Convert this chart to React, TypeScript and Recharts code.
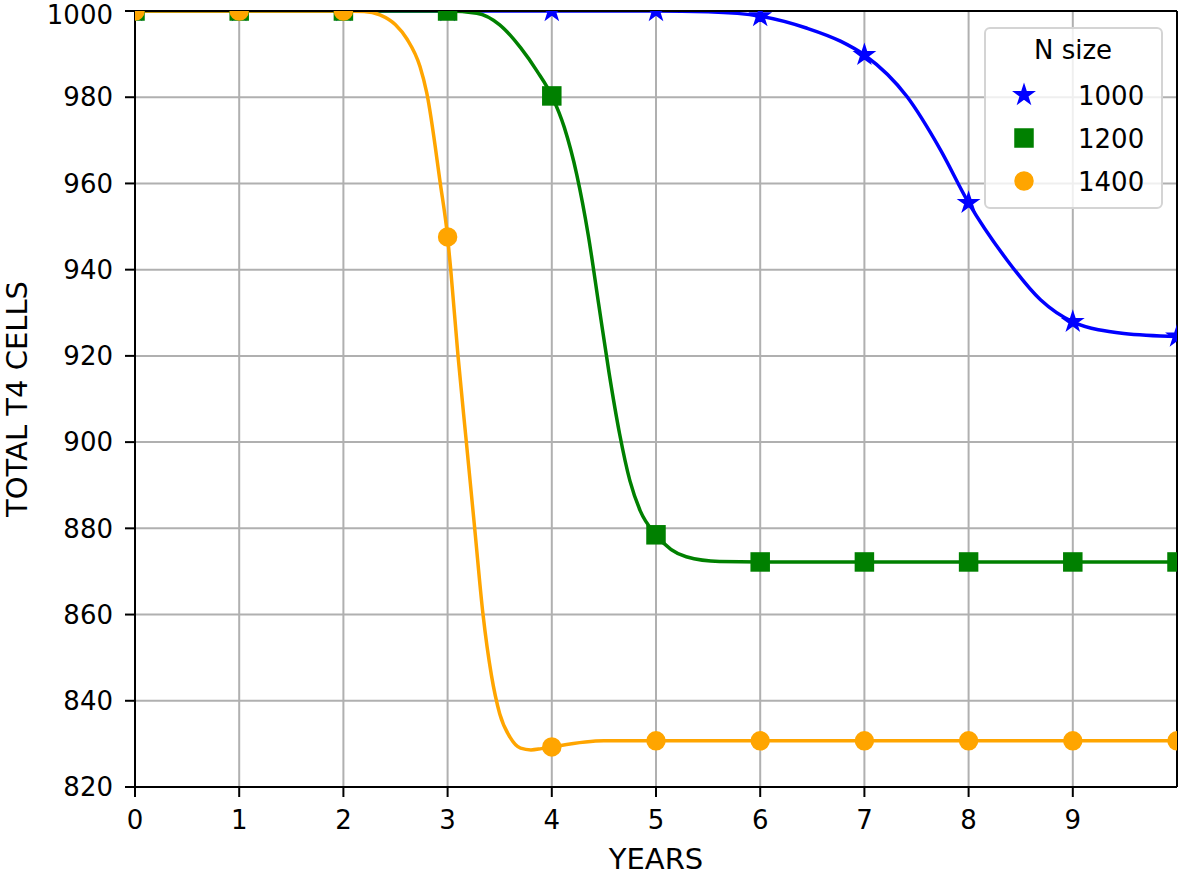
import { LineChart, Line, XAxis, YAxis, CartesianGrid, ReferenceLine } from 'recharts';

// integer years where the markers sit
const years = [0, 1, 2, 3, 4, 5, 6, 7, 8, 9, 10];
const xTicks = [0, 1, 2, 3, 4, 5, 6, 7, 8, 9];
const yTicks = [820, 840, 860, 880, 900, 920, 940, 960, 980, 1000];

// marker values (read at each year)
const n1000Marks = [1000, 1000, 1000, 1000, 1000, 1000, 998.8, 989.8, 955.5, 927.9, 924.5];
const n1200Marks = [1000, 1000, 1000, 1000, 980.3, 878.5, 872.2, 872.2, 872.2, 872.2, 872.2];
const n1400Marks = [1000, 1000, 1000, 947.6, 829.3, 830.7, 830.7, 830.7, 830.7, 830.7, 830.7];

// smooth curves at uneven x positions
const n1000CurveX = [0, 1, 2, 3, 4, 5, 5.5, 6, 6.45, 6.77, 7, 7.41, 7.73, 8, 8.37, 8.69, 9, 9.49, 10];
const n1000CurveY = [1000, 1000, 1000, 1000, 1000, 1000, 999.8, 998.8, 996, 993, 989.8, 980.1, 967.8, 955.5, 942.2, 933, 927.9, 925.2, 924.5];

const n1200CurveX = [0, 1, 2, 3, 3.28, 3.5, 3.7, 3.86, 4, 4.12, 4.24, 4.35, 4.45, 4.55, 4.65, 4.75, 4.85, 5, 5.29, 5.61, 6, 7, 8, 9, 10];
const n1200CurveY = [1000, 1000, 1000, 1000, 999.5, 996.8, 991.5, 986, 980.3, 973, 962, 948, 932, 916, 902, 891, 884, 878.5, 873.4, 872.3, 872.2, 872.2, 872.2, 872.2, 872.2];

const n1400CurveX = [0, 1, 2, 2.2, 2.35, 2.5, 2.61, 2.735, 2.8, 2.93, 3, 3.03, 3.1, 3.18, 3.26, 3.34, 3.42, 3.5, 3.6, 3.7, 3.8, 3.9, 4, 4.5, 5, 6, 7, 8, 9, 10];
const n1400CurveY = [1000, 1000, 1000, 999.9, 999.1, 996.8, 993.5, 987.1, 981, 960, 947.6, 940, 920, 900, 880, 860, 846, 837, 831.5, 829, 828.6, 828.9, 829.3, 830.7, 830.7, 830.7, 830.7, 830.7, 830.7, 830.7];

const seriesNames = ['1000', '1200', '1400'];
const BLUE = '#0000ff';
const GREEN = '#008000';
const ORANGE = '#ffa500';
const FONT = 'DejaVu Sans, sans-serif';
const MS = 17;

const zip = (xs: number[], ys: number[]) => xs.map((x, i) => ({ x, y: ys[i] }));

function starPoints(cx: number, cy: number, r: number) {
  const inner = r * 0.381966;
  const pts: string[] = [];
  for (let i = 0; i < 10; i++) {
    const rad = i % 2 === 0 ? r : inner;
    const a = -Math.PI / 2 + (i * Math.PI) / 5;
    pts.push(`${cx + rad * Math.cos(a)},${cy + rad * Math.sin(a)}`);
  }
  return pts.join(' ');
}

function Marker({ kind, cx, cy, color }: { kind: string; cx: number; cy: number; color: string }) {
  if (kind === 'star') {
    return <polygon points={starPoints(cx, cy, MS / 2)} fill={color} stroke={color} strokeWidth={2.5} strokeLinejoin="miter" />;
  }
  if (kind === 'square') {
    return <rect x={cx - MS / 2} y={cy - MS / 2} width={MS} height={MS} fill={color} stroke={color} strokeWidth={2.5} />;
  }
  return <circle cx={cx} cy={cy} r={MS / 2} fill={color} stroke={color} strokeWidth={2.5} />;
}

const dotRenderer = (kind: string, color: string) => (p: any) => (
  <Marker key={`${kind}-${p.index}`} kind={kind} cx={p.cx} cy={p.cy} color={color} />
);

function LegendBox() {
  const rows = [
    { kind: 'star', color: BLUE, cy: 68 },
    { kind: 'square', color: GREEN, cy: 111 },
    { kind: 'circle', color: ORANGE, cy: 154 },
  ];
  return (
    <svg width={179} height={182} style={{ position: 'absolute', left: 984, top: 27 }}>
      <rect x={1} y={1} width={177} height={180} rx={5} fill="#ffffff" fillOpacity={0.8} stroke="#d4d4d4" strokeWidth={2} />
      <text x={89} y={32} textAnchor="middle" fontFamily={FONT} fontSize={26} fill="#000">N size</text>
      {rows.map((r, i) => (
        <g key={i}>
          <Marker kind={r.kind} cx={40} cy={r.cy} color={r.color} />
          <text x={94} y={r.cy + 10} fontFamily={FONT} fontSize={26} fill="#000">{seriesNames[i]}</text>
        </g>
      ))}
    </svg>
  );
}

export default function App() {
  const axisTick = { fill: '#000', fontSize: 26, fontFamily: FONT };
  const axisLine = { stroke: '#000', strokeWidth: 2 };

  return (
    <div style={{ position: 'absolute', left: 0, top: 0, width: 1179, height: 876, background: '#fff' }}>
      <LineChart width={1179} height={876} margin={{ top: 11, right: 2, left: 0, bottom: 0 }}>
        <CartesianGrid stroke="#b0b0b0" strokeWidth={2} />
        <XAxis
          type="number"
          dataKey="x"
          domain={[0, 10]}
          ticks={xTicks}
          allowDataOverflow
          height={89}
          tickSize={10}
          tickMargin={14}
          tick={axisTick}
          tickLine={axisLine}
          axisLine={axisLine}
          label={{ value: 'YEARS', position: 'insideBottom', offset: 7, fill: '#000', fontSize: 29, fontFamily: FONT }}
        />
        <YAxis
          type="number"
          dataKey="y"
          domain={[820, 1000]}
          ticks={yTicks}
          allowDataOverflow
          width={135}
          tickSize={10}
          tickMargin={12}
          tick={axisTick}
          tickLine={axisLine}
          axisLine={axisLine}
          label={{ value: 'TOTAL T4 CELLS', angle: -90, position: 'insideLeft', offset: 17, fill: '#000', fontSize: 29, fontFamily: FONT, style: { textAnchor: 'middle' } }}
        />
        <Line data={zip(n1000CurveX, n1000CurveY)} dataKey="y" type="monotone" stroke={BLUE} strokeWidth={3.5} dot={false} activeDot={false} isAnimationActive={false} />
        <Line data={zip(years, n1000Marks)} dataKey="y" stroke="none" dot={dotRenderer('star', BLUE)} activeDot={false} isAnimationActive={false} />
        <Line data={zip(n1200CurveX, n1200CurveY)} dataKey="y" type="monotone" stroke={GREEN} strokeWidth={3.5} dot={false} activeDot={false} isAnimationActive={false} />
        <Line data={zip(years, n1200Marks)} dataKey="y" stroke="none" dot={dotRenderer('square', GREEN)} activeDot={false} isAnimationActive={false} />
        <Line data={zip(n1400CurveX, n1400CurveY)} dataKey="y" type="monotone" stroke={ORANGE} strokeWidth={3.5} dot={false} activeDot={false} isAnimationActive={false} />
        <Line data={zip(years, n1400Marks)} dataKey="y" stroke="none" dot={dotRenderer('circle', ORANGE)} activeDot={false} isAnimationActive={false} />
        <ReferenceLine y={1000} stroke="#000" strokeWidth={2} />
        <ReferenceLine x={10} stroke="#000" strokeWidth={2} />
      </LineChart>
      <LegendBox />
    </div>
  );
}
